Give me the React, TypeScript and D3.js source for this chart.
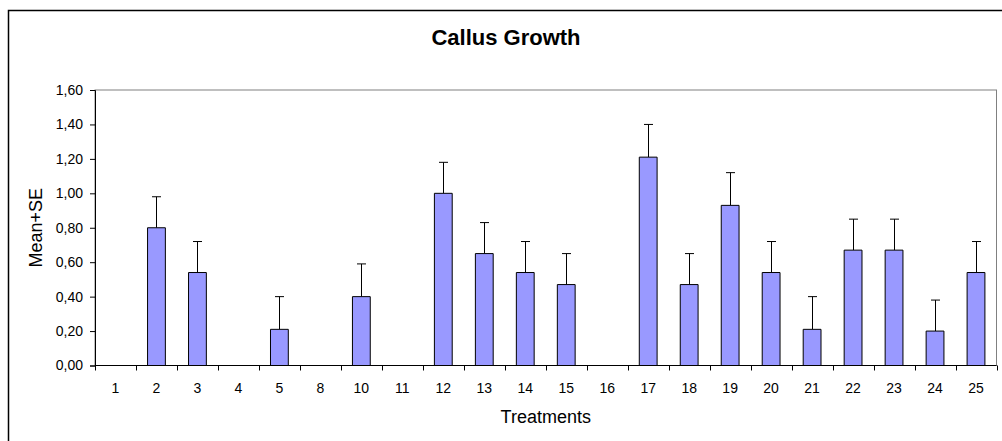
import React, { useEffect, useRef } from 'react';
import * as d3 from 'd3';

const treatments = ["1", "2", "3", "4", "5", "8", "10", "11", "12", "13", "14", "15", "16", "17", "18", "19", "20", "21", "22", "23", "24", "25"];
const means = [0, 0.80, 0.54, 0, 0.21, 0, 0.40, 0, 1.00, 0.65, 0.54, 0.47, 0, 1.21, 0.47, 0.93, 0.54, 0.21, 0.67, 0.67, 0.20, 0.54];
const se = [0, 0.18, 0.18, 0, 0.19, 0, 0.19, 0, 0.18, 0.18, 0.18, 0.18, 0, 0.19, 0.18, 0.19, 0.18, 0.19, 0.18, 0.18, 0.18, 0.18];
const yTicks = [0, 0.2, 0.4, 0.6, 0.8, 1.0, 1.2, 1.4, 1.6];

const App = () => {
  const ref = useRef<SVGSVGElement>(null);

  useEffect(() => {
    const width = 1002;
    const height = 441;
    const margin = { top: 90, right: 5.5, bottom: 75.5, left: 95 };
    const font = "Arial, 'Liberation Sans', sans-serif";

    const svg = d3.select(ref.current);
    svg.selectAll("*").remove();

    const x = d3.scaleBand()
      .domain(treatments)
      .range([margin.left, width - margin.right])
      .padding(0);

    const y = d3.scaleLinear()
      .domain([0, 1.6])
      .range([height - margin.bottom, margin.top]);

    const barW = x.bandwidth() / 2.3;
    const data = treatments.map((t, i) => ({ t, m: means[i], s: se[i] }));

    // chart area frame
    svg.append("rect")
      .attr("x", 8.5).attr("y", 10.5)
      .attr("width", 1000).attr("height", 440)
      .attr("fill", "#fff")
      .attr("stroke", "#000").attr("stroke-width", 1.5);

    // plot area
    svg.append("rect")
      .attr("x", margin.left).attr("y", margin.top)
      .attr("width", width - margin.right - margin.left)
      .attr("height", y(0) - margin.top)
      .attr("fill", "#fff")
      .attr("stroke", "#808080").attr("stroke-width", 1);

    svg.append("text")
      .attr("x", 506).attr("y", 45)
      .attr("text-anchor", "middle")
      .attr("font-family", font)
      .attr("font-size", 22)
      .attr("font-weight", "bold")
      .text("Callus Growth");

    // error bars
    const err = svg.append("g").attr("stroke", "#000").attr("stroke-width", 1);
    data.filter(d => d.s > 0).forEach(d => {
      const cx = Math.round(x(d.t)! + x.bandwidth() / 2) + 0.5;
      err.append("line")
        .attr("x1", cx).attr("x2", cx)
        .attr("y1", y(d.m)).attr("y2", y(d.m + d.s));
      err.append("line")
        .attr("x1", cx - 4.5).attr("x2", cx + 4.5)
        .attr("y1", y(d.m + d.s)).attr("y2", y(d.m + d.s));
    });

    // bars
    svg.append("g")
      .selectAll("path")
      .data(data)
      .join("path")
      .attr("d", d => {
        const x0 = x(d.t)! + (x.bandwidth() - barW) / 2;
        return `M${x0},${y(0)}V${y(d.m)}H${x0 + barW}V${y(0)}Z`;
      })
      .attr("fill", "#9999ff")
      .attr("stroke", "#000")
      .attr("stroke-width", 1);

    // y axis
    const yAxis = svg.append("g")
      .attr("transform", `translate(${margin.left},0)`)
      .call(d3.axisLeft(y).tickValues(yTicks).tickSize(5).tickPadding(7)
        .tickFormat(d => d3.format(".2f")(d as number).replace(".", ",")));
    yAxis.select(".domain").attr("stroke", "#000");
    yAxis.selectAll("text").attr("font-family", font).attr("font-size", 14).attr("fill", "#000");

    // x axis, ticks at category boundaries
    const xg = svg.append("g").attr("transform", `translate(0,${y(0)})`);
    xg.append("line")
      .attr("x1", margin.left).attr("x2", width - margin.right)
      .attr("stroke", "#000");
    const bounds = treatments.map(t => x(t)!).concat([width - margin.right]);
    xg.selectAll("line.tick")
      .data(bounds)
      .join("line")
      .attr("class", "tick")
      .attr("x1", d => Math.round(d) + 0.5).attr("x2", d => Math.round(d) + 0.5)
      .attr("y1", 0).attr("y2", 5)
      .attr("stroke", "#000");
    xg.selectAll("text")
      .data(treatments)
      .join("text")
      .attr("x", d => x(d)! + x.bandwidth() / 2)
      .attr("y", 27)
      .attr("text-anchor", "middle")
      .attr("font-family", font)
      .attr("font-size", 14)
      .text(d => d);

    svg.append("text")
      .attr("x", (margin.left + width - margin.right) / 2)
      .attr("y", 423)
      .attr("text-anchor", "middle")
      .attr("font-family", font)
      .attr("font-size", 18)
      .text("Treatments");

    svg.append("text")
      .attr("transform", `translate(42,${(margin.top + y(0)) / 2}) rotate(-90)`)
      .attr("text-anchor", "middle")
      .attr("font-family", font)
      .attr("font-size", 18)
      .text("Mean+SE");
  }, []);

  return (
    <svg ref={ref} width={1002} height={441}
      style={{ position: "absolute", left: 0, top: 0, display: "block" }} />
  );
};

export default App;
